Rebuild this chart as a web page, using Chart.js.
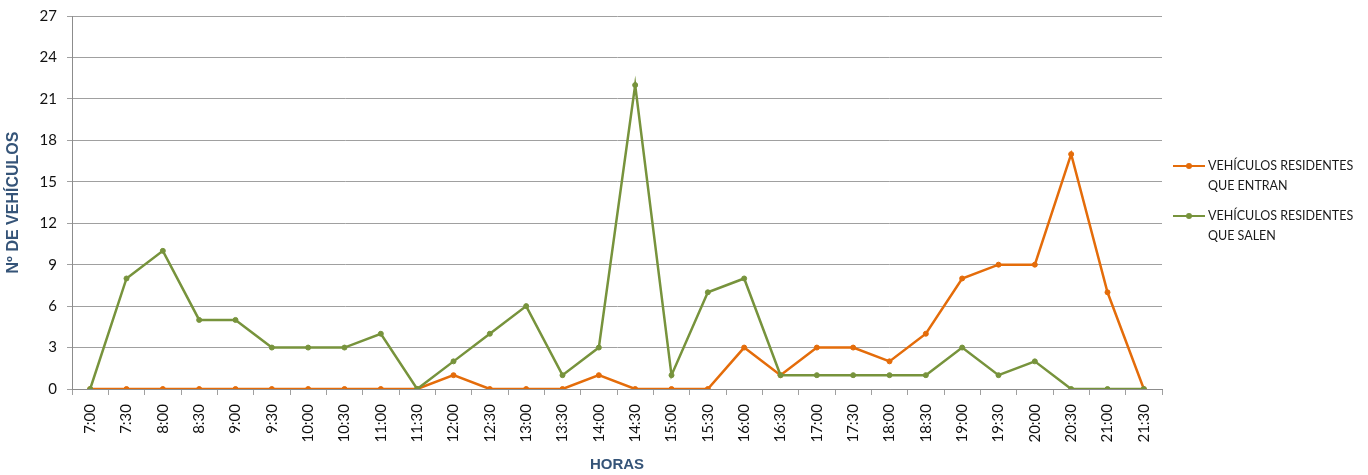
<!DOCTYPE html>
<html lang="es">
<head>
<meta charset="utf-8">
<title>Vehículos residentes por hora</title>
<script src="https://cdn.jsdelivr.net/npm/chart.js@4.4.1/dist/chart.umd.min.js"></script>
<style>
  html, body { margin: 0; padding: 0; background: #ffffff; }
  #wrap { position: relative; width: 1368px; height: 475px; }
  #chart { position: absolute; left: 0; top: 0; }
  #legend { position: absolute; left: 1173px; top: 156px; font-family: Lato, "Open Sans", sans-serif; font-size: 12.5px; color: #1a1a1a; }
  .item { position: relative; padding-left: 35px; line-height: 20px; margin-bottom: 10px; }
  .swatch { position: absolute; left: 0; top: 9px; width: 32px; height: 2px; }
  .swatch::after { content: ""; position: absolute; left: 13px; top: -2px; width: 6px; height: 6px; border-radius: 50%; background: inherit; }
</style>
</head>
<body>
<div id="wrap">
  <canvas id="chart" width="1368" height="475"></canvas>
  <div id="legend"></div>
</div>
<script>
// Half-hour time slots
const horas = ['7:00','7:30','8:00','8:30','9:00','9:30','10:00','10:30','11:00','11:30',
  '12:00','12:30','13:00','13:30','14:00','14:30','15:00','15:30','16:00','16:30',
  '17:00','17:30','18:00','18:30','19:00','19:30','20:00','20:30','21:00','21:30'];

// Resident vehicles entering
const entran = [0,0,0,0,0,0,0,0,0,0, 1,0,0,0,1,0,0,0,3,1, 3,3,2,4,8,9,9,17,7,0];

// Resident vehicles leaving
const salen = [0,8,10,5,5,3,3,3,4,0, 2,4,6,1,3,22,1,7,8,1, 1,1,1,1,3,1,2,0,0,0];

const yTicks = [0,3,6,9,12,15,18,21,24,27];

const series = [
  { label: ['VEHÍCULOS RESIDENTES', 'QUE ENTRAN'], data: entran, color: '#e46c0a', order: 2 },
  { label: ['VEHÍCULOS RESIDENTES', 'QUE SALEN'], data: salen, color: '#77933c', order: 1 }
];

const tickFont = { family: 'Lato, "Open Sans", sans-serif', size: 15 };
const titleFontX = { family: '"Liberation Sans", Arial, sans-serif', size: 15, weight: 'bold' };
const titleFontY = { family: '"Liberation Sans", Arial, sans-serif', size: 16, weight: 'bold' };
const titleColor = '#355478';
const gridColor = '#a0a0a0';

new Chart(document.getElementById('chart'), {
  type: 'line',
  data: {
    labels: horas,
    datasets: series.map(s => ({
      label: s.label.join(' '),
      data: s.data,
      borderColor: s.color,
      backgroundColor: s.color,
      pointBackgroundColor: s.color,
      pointBorderColor: s.color,
      borderWidth: 2.5,
      pointRadius: 2.5,
      pointBorderWidth: 1,
      pointHoverRadius: 2.5,
      tension: 0,
      order: s.order
    }))
  },
  options: {
    responsive: false,
    animation: false,
    devicePixelRatio: 1,
    layout: { padding: { top: 16, right: 206, left: 0, bottom: 0 } },
    plugins: { legend: { display: false }, tooltip: { enabled: false } },
    scales: {
      x: {
        offset: true,
        grid: { offset: true, drawOnChartArea: false, drawTicks: true, tickLength: 6, color: gridColor },
        border: { color: '#8c8c8c', width: 1 },
        ticks: { font: tickFont, color: '#111', minRotation: 90, maxRotation: 90, padding: 9, autoSkip: false },
        title: { display: true, text: 'HORAS', font: titleFontX, color: titleColor, padding: { top: 4, bottom: 1 } },
        afterFit: s => { s.height = 86; s.paddingLeft = 0; s.paddingRight = 0; }
      },
      y: {
        min: 0,
        max: 27,
        afterBuildTicks: s => { s.ticks = yTicks.map(v => ({ value: v })); },
        grid: { color: gridColor, lineWidth: 1, tickLength: 5 },
        border: { color: '#8c8c8c', width: 1 },
        ticks: { font: tickFont, color: '#111', padding: 10 },
        title: { display: true, text: 'Nº DE VEHÍCULOS', font: titleFontY, color: titleColor, padding: { top: 4, bottom: 0 } },
        afterFit: s => { s.width = 72; s.paddingTop = 0; s.paddingBottom = 0; }
      }
    }
  }
});

// Legend with two-line entries
const legend = document.getElementById('legend');
series.forEach(s => {
  const item = document.createElement('div');
  item.className = 'item';
  const sw = document.createElement('span');
  sw.className = 'swatch';
  sw.style.background = s.color;
  item.appendChild(sw);
  s.label.forEach((line, i) => {
    if (i) item.appendChild(document.createElement('br'));
    item.appendChild(document.createTextNode(line));
  });
  legend.appendChild(item);
});
</script>
</body>
</html>
